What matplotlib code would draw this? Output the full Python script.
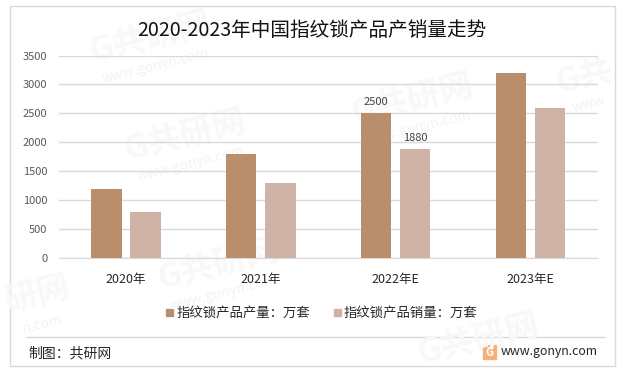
import numpy as np
import matplotlib
matplotlib.use('Agg')
import matplotlib.pyplot as plt
from matplotlib.patches import Rectangle
from matplotlib.lines import Line2D

plt.rcParams['font.family'] = ['Noto Sans CJK SC', 'DejaVu Sans']

years = ['2020年', '2021年', '2022年E', '2023年E']
output = [1200, 1800, 2500, 3200]
sales = [800, 1300, 1880, 2600]
yticks = [0, 500, 1000, 1500, 2000, 2500, 3000, 3500]

# figure is 623x372 px, so positions below are worked out in pixels
W, H = 623, 372
fig = plt.figure(figsize=(W / 100, H / 100), dpi=100, facecolor='white')

# pixel overlay for the frame, footer and watermarks
bg = fig.add_axes([0, 0, 1, 1])
bg.set_xlim(0, W)
bg.set_ylim(H, 0)
bg.axis('off')

bg.add_patch(Rectangle((9.5, 5.5), 605, 360, fill=False, edgecolor='#d9d9d9', linewidth=1))
bg.add_line(Line2D([26, 605], [336.5, 336.5], color='#d9d9d9', linewidth=1))

# watermarks, the ones at the frame edge only show part of the text
marks = [(150, 38, 'G共研网', 'www.gonyn.com'), (185, 136, 'G共研网', 'www.gonyn.com'),
         (218, 265, 'G共研网', 'www.gonyn.com'), (412, 100, 'G共研网', 'www.gonyn.com'),
         (478, 340, 'G共研网', ''), (584, 76, 'G共', 'www'), (38, 296, '研网', 'n.com')]
for mx, my, label, url in marks:
    bg.text(mx, my, label, fontsize=24, fontweight='bold', color='#f8f8f8', rotation=14,
            ha='center', va='center', rotation_mode='anchor')
    if url:
        bg.text(mx + 5, my + 28, url, fontsize=10, color='#f3f3f3', rotation=14,
                ha='center', va='center', rotation_mode='anchor')

# plot area
left, right, top, bottom = 58.5, 598, 55.5, 258
ax = fig.add_axes([left / W, 1 - bottom / H, (right - left) / W, (bottom - top) / H])
ax.patch.set_alpha(0)

x = np.arange(len(years))
width = 0.225
off = 0.145
ax.bar(x - off, output, width, color='#b98e6d', zorder=3)
ax.bar(x + off, sales, width, color='#cfb3a7', zorder=3)

ax.set_xlim(-0.5, 3.5)
ax.set_ylim(0, 3500)
ax.set_yticks(yticks)
ax.set_xticks(x)
ax.set_xticklabels(years, fontsize=9, color='#262626')
ax.tick_params(axis='y', length=0, labelsize=8, labelcolor='#595959', pad=8)
ax.tick_params(axis='x', length=0, pad=11)
ax.grid(axis='y', color='#d9d9d9', linewidth=1, zorder=1)
ax.set_axisbelow(True)
for s in ['top', 'right', 'left']:
    ax.spines[s].set_visible(False)
ax.spines['bottom'].set_color('#d9d9d9')

# only the 2022 bars carry labels in the original
ax.text(x[2] - off, output[2] + 105, str(output[2]), ha='center', va='bottom', fontsize=8, color='#404040')
ax.text(x[2] + off, sales[2] + 105, str(sales[2]), ha='center', va='bottom', fontsize=8, color='#404040')

# title, legend and footer
bg.text(311.5, 30, '2020-2023年中国指纹锁产品产销量走势', fontsize=14.1, color='#111111', ha='center', va='center')

bg.add_patch(Rectangle((166, 309), 7, 7, color='#b98e6d'))
bg.text(177, 312.5, '指纹锁产品产量：万套', fontsize=9.6, color='#262626', va='center')
bg.add_patch(Rectangle((334, 309), 7, 7, color='#cfb3a7'))
bg.text(344, 312.5, '指纹锁产品销量：万套', fontsize=9.6, color='#262626', va='center')

bg.text(28, 353, '制图：共研网', fontsize=10, color='#262626', va='center')
bg.text(501, 351.5, 'www.gonyn.com', fontsize=8.9, color='#262626', va='center')

# small logo next to the url
bg.add_patch(Rectangle((483, 345), 13, 14, color='#f3b27a'))
bg.text(489.5, 352, 'G', fontsize=8, fontweight='bold', color='white', ha='center', va='center')

fig.savefig('out.png', dpi=100, facecolor='white')
